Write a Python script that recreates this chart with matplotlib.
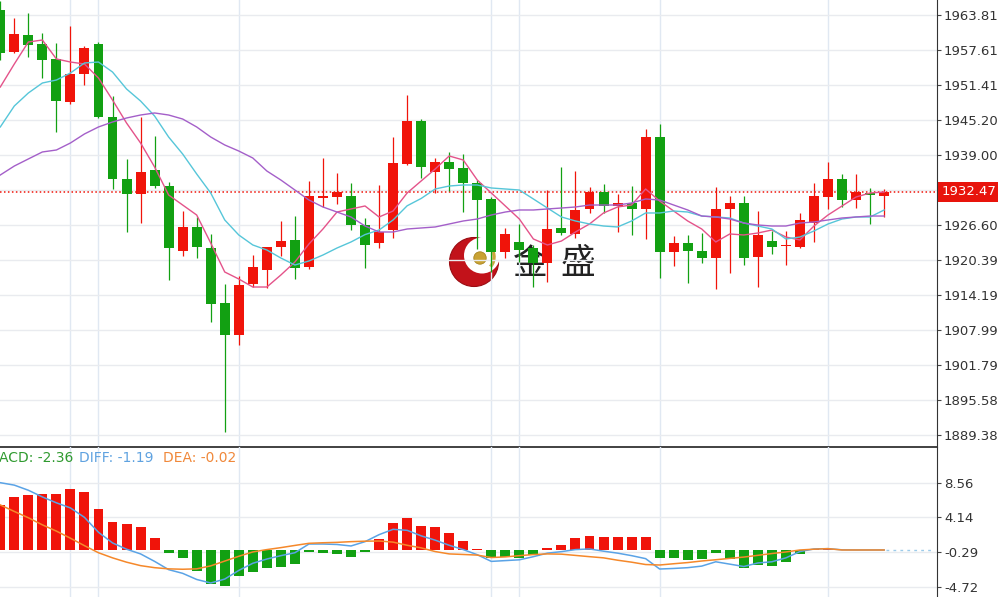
import numpy as np
import matplotlib
matplotlib.use('Agg')
import matplotlib.pyplot as plt
import matplotlib.transforms as mtransforms
from matplotlib.patches import Circle, Arc

# daily candles (red = up, green = down)
OPEN = [1964.70, 1957.20, 1960.30, 1958.70, 1955.97, 1948.45, 1953.36, 1958.67, 1945.80, 1934.75,
        1932.10, 1936.35, 1933.57, 1922.05, 1926.30, 1922.58, 1912.72, 1907.10, 1916.14, 1918.63,
        1922.65, 1923.94, 1919.21, 1931.38, 1931.61, 1931.79, 1926.60, 1923.46, 1925.71, 1937.36,
        1945.08, 1935.94, 1937.71, 1936.75, 1934.10, 1931.21, 1921.87, 1923.64, 1922.47, 1919.92,
        1926.01, 1924.95, 1929.38, 1932.39, 1930.02, 1930.55, 1929.38, 1942.25, 1921.87, 1923.36,
        1922.05, 1920.70, 1929.44, 1930.44, 1920.87, 1923.82, 1922.80, 1922.65, 1927.01, 1931.51,
        1934.70, 1931.03, 1932.32, 1931.74]
HIGH = [1966.30, 1963.20, 1964.20, 1960.70, 1958.80, 1961.86, 1958.30, 1958.97, 1949.46, 1938.24,
        1945.70, 1942.43, 1934.27, 1929.08, 1928.07, 1924.95, 1916.09, 1917.57, 1921.28, 1922.76,
        1927.31, 1928.19, 1934.40, 1938.42, 1935.87, 1933.99, 1927.79, 1933.69, 1942.25, 1949.64,
        1945.38, 1938.42, 1939.59, 1939.18, 1934.57, 1931.60, 1926.01, 1926.78, 1923.06, 1932.80,
        1936.82, 1936.22, 1933.28, 1933.87, 1932.04, 1933.51, 1943.56, 1944.50, 1924.65, 1924.83,
        1925.13, 1933.39, 1931.74, 1931.74, 1929.13, 1925.59, 1925.59, 1928.67, 1934.10, 1937.71,
        1935.64, 1935.64, 1933.10, 1932.90]
LOW = [1955.80, 1957.00, 1956.40, 1952.65, 1943.10, 1948.00, 1951.40, 1945.50, 1932.90, 1925.30,
       1926.90, 1933.10, 1916.85, 1921.16, 1920.80, 1909.47, 1889.97, 1905.34, 1915.56, 1915.38,
       1921.10, 1916.98, 1918.75, 1929.84, 1930.27, 1925.71, 1918.93, 1922.47, 1924.24, 1937.30,
       1934.98, 1932.32, 1932.68, 1928.85, 1922.29, 1918.33, 1920.70, 1920.10, 1915.56, 1916.55,
       1924.83, 1924.24, 1928.67, 1928.67, 1925.41, 1924.77, 1924.07, 1917.15, 1919.39, 1916.27,
       1919.81, 1915.20, 1918.04, 1919.51, 1915.56, 1921.46, 1919.51, 1922.47, 1923.53, 1929.38,
       1929.84, 1929.56, 1926.78, 1927.97]
CLOSE = [1957.10, 1960.45, 1958.50, 1955.80, 1948.50, 1953.36, 1957.90, 1945.80, 1934.75, 1932.04,
         1935.93, 1933.57, 1922.47, 1926.25, 1922.65, 1912.60, 1907.10, 1915.97, 1919.21, 1922.65,
         1923.82, 1919.03, 1931.74, 1931.74, 1932.39, 1926.60, 1923.06, 1925.41, 1937.53, 1945.03,
         1936.93, 1937.82, 1936.52, 1933.99, 1931.03, 1921.76, 1924.95, 1922.17, 1919.81, 1925.89,
         1925.13, 1929.26, 1932.50, 1930.02, 1930.55, 1929.38, 1942.25, 1921.87, 1923.36, 1922.05,
         1920.70, 1929.38, 1930.44, 1920.70, 1924.83, 1922.76, 1923.00, 1927.49, 1931.74, 1934.75,
         1931.03, 1932.39, 1931.86, 1932.47]

# moving averages as drawn on the chart
MA5 = [1951.05, 1955.13, 1959.03, 1959.38, 1956.02, 1955.48, 1955.13, 1952.65, 1948.75, 1944.67,
       1941.13, 1936.88, 1931.92, 1930.14, 1928.37, 1923.41, 1918.27, 1917.03, 1915.61, 1915.61,
       1917.74, 1920.04, 1923.23, 1925.89, 1928.90, 1929.44, 1929.97, 1928.02, 1929.08, 1932.27,
       1934.40, 1936.52, 1938.83, 1938.12, 1934.57, 1932.27, 1929.97, 1927.66, 1924.12, 1923.06,
       1923.76, 1925.36, 1926.78, 1928.73, 1929.79, 1930.14, 1932.98, 1930.85, 1929.08, 1927.31,
       1925.89, 1923.59, 1925.01, 1924.83, 1925.18, 1925.71, 1924.47, 1923.94, 1926.42, 1928.37,
       1929.97, 1931.56, 1932.27, 1932.45]
MA10 = [1943.97, 1947.69, 1949.99, 1951.76, 1952.29, 1953.53, 1955.31, 1955.48, 1953.71, 1950.70,
        1948.57, 1945.91, 1942.19, 1939.18, 1935.64, 1932.27, 1927.49, 1924.83, 1923.06, 1922.17,
        1920.75, 1919.51, 1920.22, 1921.28, 1922.52, 1923.59, 1924.90, 1925.71, 1927.49, 1930.00,
        1931.30, 1932.98, 1933.51, 1933.69, 1933.69, 1933.16, 1932.98, 1932.80, 1931.21, 1929.61,
        1928.02, 1927.31, 1926.78, 1926.42, 1926.25, 1927.31, 1928.73, 1928.73, 1929.08, 1928.90,
        1928.19, 1928.02, 1927.84, 1926.95, 1926.42, 1925.89, 1924.12, 1924.47, 1925.54, 1926.78,
        1927.66, 1928.02, 1928.02, 1929.26]
MA20 = [1935.46, 1937.05, 1938.30, 1939.54, 1939.89, 1941.13, 1942.73, 1943.97, 1944.85, 1945.56,
        1946.09, 1946.45, 1946.09, 1945.38, 1943.97, 1942.19, 1940.78, 1939.71, 1938.47, 1936.17,
        1934.57, 1932.80, 1931.03, 1929.79, 1928.90, 1928.02, 1926.42, 1925.36, 1925.36, 1925.89,
        1926.07, 1926.25, 1926.78, 1927.31, 1927.66, 1928.37, 1928.90, 1929.26, 1929.26, 1929.44,
        1929.61, 1929.79, 1930.14, 1930.14, 1930.14, 1930.50, 1931.21, 1931.03, 1930.14, 1929.26,
        1928.19, 1928.02, 1927.66, 1926.95, 1926.60, 1926.42, 1926.42, 1926.95, 1927.13, 1927.49,
        1927.84, 1928.02, 1928.19, 1928.19]

# MACD panel
HIST = [5.73, 6.70, 7.00, 7.08, 7.08, 7.76, 7.38, 5.17, 3.60, 3.31,
        2.97, 1.48, -0.34, -1.06, -2.67, -4.37, -4.58, -3.31, -2.76, -2.33,
        -2.12, -1.82, -0.25, -0.34, -0.55, -0.93, -0.25, 1.40, 3.48, 4.03,
        3.05, 2.89, 2.20, 1.19, 0.10, -0.97, -0.93, -1.06, -0.64, 0.21,
        0.64, 1.48, 1.82, 1.61, 1.70, 1.61, 1.61, -1.06, -1.06, -1.27,
        -1.19, -0.42, -1.19, -2.33, -1.95, -2.04, -1.48, -0.51, 0.10, 0.15,
        0.00, 0.02, 0.00, 0.00]
DIFF = [8.56, 8.25, 7.60, 6.75, 6.00, 5.35, 4.15, 2.25, 0.90, 0.10,
        -0.50, -1.45, -2.50, -2.97, -3.75, -4.20, -3.70, -2.60, -1.69, -1.15,
        -0.72, -0.35, 0.76, 0.76, 0.70, 0.51, 1.06, 1.95, 2.63, 2.50,
        1.80, 1.25, 0.60, 0.05, -0.60, -1.45, -1.35, -1.25, -0.85, -0.40,
        -0.21, 0.05, 0.13, -0.15, -0.40, -0.72, -1.10, -2.42, -2.35, -2.25,
        -2.05, -1.50, -1.80, -2.10, -1.65, -1.50, -1.00, -0.20, 0.13, 0.17,
        0.02, 0.00, 0.00, 0.00]
DEA = [5.73, 4.90, 4.10, 3.20, 2.40, 1.50, 0.55, -0.35, -1.00, -1.55,
       -1.99, -2.25, -2.40, -2.45, -2.40, -2.02, -1.41, -0.80, -0.25, 0.05,
       0.30, 0.58, 0.85, 0.92, 0.97, 1.06, 1.12, 1.14, 1.00, 0.60,
       0.27, -0.20, -0.50, -0.57, -0.65, -0.96, -0.88, -0.72, -0.58, -0.50,
       -0.53, -0.69, -0.85, -1.00, -1.30, -1.55, -1.85, -1.91, -1.75, -1.60,
       -1.40, -1.24, -1.07, -0.90, -0.68, -0.45, -0.25, 0.00, 0.10, 0.17,
       0.00, 0.00, 0.00, 0.00]

PRICE_TICKS = [1963.81, 1957.61, 1951.41, 1945.20, 1939.00, 1932.80, 1926.60,
               1920.39, 1914.19, 1907.99, 1901.79, 1895.58, 1889.38]
MACD_TICKS = [8.56, 4.14, -0.29, -4.72]
DAY_BREAKS = [5, 7, 17, 35, 37, 47, 59]   # candles where the vertical grid lines sit
HEADER = [("MACD: -2.36", '#2f9a2f'), ("DIFF: -1.19", '#5fa2e0'), ("DEA: -0.02", '#f0883a')]

RED = '#f0140a'
GREEN = '#12a012'

W, H = 998, 597
PLOT_W, SPLIT = 937, 447          # right axis line / panel split, in pixels

fig = plt.figure(figsize=(W / 100, H / 100), dpi=100, facecolor='white')
main_rect = [0, 1 - SPLIT / H, PLOT_W / W, SPLIT / H]
macd_rect = [0, 0, PLOT_W / W, 1 - SPLIT / H]

x = np.arange(len(CLOSE))
xlim = (-0.02, 66.77)

# --- watermark (drawn underneath, pixel coordinates) ---
bg = fig.add_axes(main_rect, zorder=0)
bg.set_xlim(0, PLOT_W)
bg.set_ylim(SPLIT, 0)
bg.axis('off')
bg.add_patch(Circle((474, 262), 24.5, fc='#c2121a', ec='#9a0c12', lw=0.8))
bg.add_patch(Circle((482, 255.5), 18, fc='white', ec='none'))
bg.add_patch(Circle((480, 258), 6.2, fc='#c9a233', ec='#a8841e', lw=0.6))
bg.add_patch(Arc((479, 257), 30, 30, theta1=-55, theta2=40, color='#c9a63a', lw=2.5))
for ch, cx in [("金", 530), ("盛", 578)]:
    bg.text(cx, 264, ch, fontsize=25, color='#222222', ha='center', va='center',
            family=['Noto Sans CJK SC', 'DejaVu Sans'])

# --- price panel ---
ax = fig.add_axes(main_rect, zorder=1)
ax.patch.set_alpha(0)
ax.set_xlim(*xlim)
ax.set_ylim(1887.26, 1966.47)

o, h, l, c = map(np.array, (OPEN, HIGH, LOW, CLOSE))
colors = np.where(c >= o, RED, GREEN)
ax.vlines(x, l, h, colors=colors, lw=0.9, zorder=3)
ax.bar(x, np.maximum(np.abs(c - o), 0.25), bottom=np.minimum(o, c), width=0.71,
       color=colors, lw=0, zorder=4)

ax.plot(x, MA5, color='#e4538a', lw=1.0, zorder=5)
ax.plot(x, MA10, color='#56c6d9', lw=1.0, zorder=5)
ax.plot(x, MA20, color='#a45fc9', lw=1.0, zorder=5)

last = CLOSE[-1]
ax.axhline(last, color=RED, lw=1.1, ls=(0, (1, 1.6)), zorder=2)
trans = mtransforms.blended_transform_factory(ax.transAxes, ax.transData)
ax.text(1 + 4.5 / PLOT_W, last, f'{last:.2f}', transform=trans, ha='left', va='center',
        fontsize=9.5, color='white', clip_on=False, zorder=10,
        bbox=dict(boxstyle='square,pad=0.28', fc='#e8140c', ec='none'))

ax.yaxis.tick_right()
ax.set_yticks(PRICE_TICKS)
ax.set_yticklabels(['' if abs(t - last) < 1 else f'{t:.2f}' for t in PRICE_TICKS])
ax.set_xticks(DAY_BREAKS)
ax.tick_params(axis='x', length=0, labelbottom=False)
ax.tick_params(axis='y', length=3, width=0.8, color='#444', labelcolor='#333',
               labelsize=9.5, pad=2)
ax.grid(axis='y', color='#e9ebef', lw=1)
ax.grid(axis='x', color='#e0e8f2', lw=1)
ax.set_axisbelow(True)
for s in ('top', 'left'):
    ax.spines[s].set_visible(False)
ax.spines['bottom'].set_color('#333')
ax.spines['bottom'].set_linewidth(1.3)
ax.spines['right'].set_color('#333')

# --- MACD panel ---
m = fig.add_axes(macd_rect, zorder=1)
m.patch.set_alpha(0)
m.set_xlim(*xlim)
m.set_ylim(-5.98, 13.1)
hist = np.array(HIST)
m.bar(x, hist, width=0.71, color=np.where(hist >= 0, RED, GREEN), lw=0, zorder=3)
m.plot(x, DIFF, color='#5aa3e6', lw=1.1, zorder=4)
m.plot(x, DEA, color='#f5882a', lw=1.1, zorder=4)
m.plot([x[-1] + 0.1, xlim[1] - 0.2], [DEA[-1], DEA[-1]], color='#9ccbea', lw=1,
       ls=(0, (2, 3)), zorder=4)

m.yaxis.tick_right()
m.set_yticks(MACD_TICKS)
m.set_yticklabels([f'{t:.2f}' for t in MACD_TICKS])
m.set_xticks(DAY_BREAKS)
m.tick_params(axis='x', length=0, labelbottom=False)
m.tick_params(axis='y', length=3, width=0.8, color='#444', labelcolor='#333',
              labelsize=9.5, pad=2)
m.grid(axis='y', color='#e9ebef', lw=1)
m.grid(axis='x', color='#e0e8f2', lw=1)
m.set_axisbelow(True)
for s in ('top', 'left', 'bottom'):
    m.spines[s].set_visible(False)
m.spines['right'].set_color('#333')

for (label, col), px in zip(HEADER, [-13, 79, 163]):
    m.text(px / PLOT_W, 1 - 11 / 150, label, transform=m.transAxes, color=col,
           fontsize=10, ha='left', va='center', clip_on=False)

fig.savefig('out.png', dpi=100, facecolor='white')
